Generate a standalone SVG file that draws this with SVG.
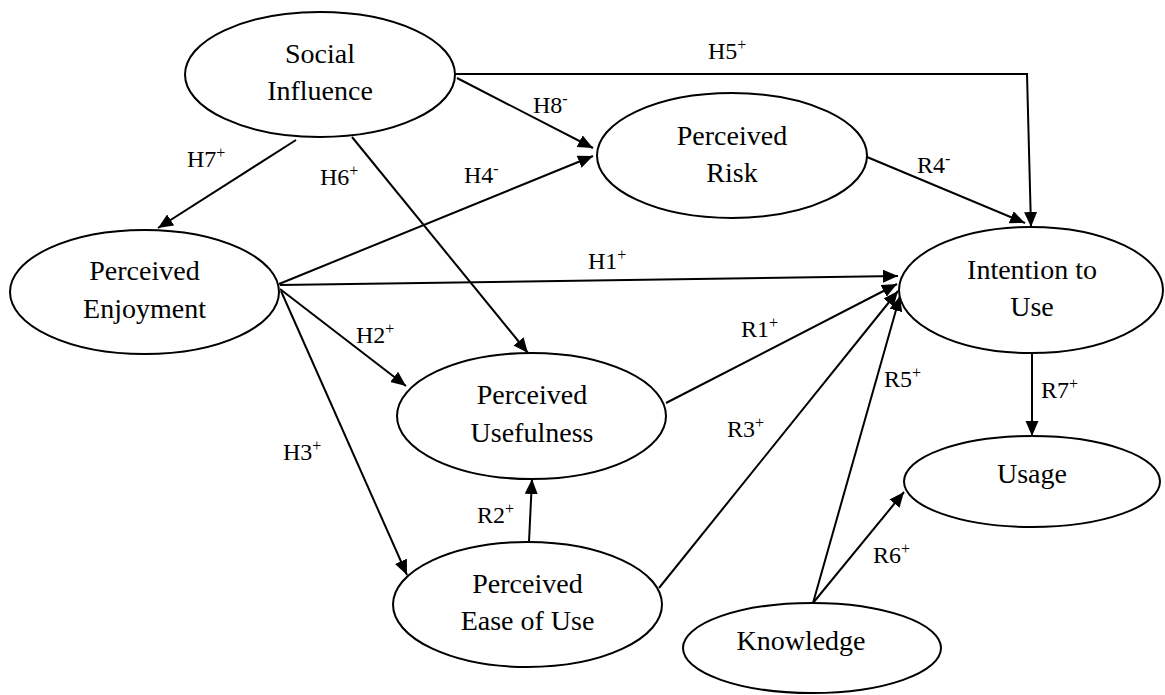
<svg xmlns="http://www.w3.org/2000/svg" width="1165" height="695" viewBox="0 0 1165 695">
<style>
.node ellipse{fill:#fff;stroke:#000;stroke-width:2}
.node text{font-size:28px;fill:#000;text-anchor:middle}
.conn line,.conn polyline{stroke:#000;stroke-width:2;fill:none;marker-end:url(#arr)}
.lbl{font-size:24px;fill:#000}
.sup{font-size:16px}
</style>
<defs>
<marker id="arr" markerUnits="userSpaceOnUse" markerWidth="16" markerHeight="14" refX="15" refY="6.5" orient="auto">
<path d="M0,0 L15,6.5 L0,13 Z" fill="#000"/>
</marker>
</defs>
<rect width="1165" height="695" fill="#fff"/>
<g class="conn" id="connectors">
<polyline points="455,74 1027,74 1031,227"/>
<line x1="457" y1="78" x2="593" y2="148"/>
<line x1="279" y1="284" x2="593" y2="156"/>
<line x1="296" y1="140" x2="158" y2="228"/>
<line x1="352" y1="137" x2="528" y2="353"/>
<line x1="280" y1="285" x2="898" y2="276"/>
<line x1="280" y1="289" x2="406" y2="386"/>
<line x1="281" y1="291" x2="407" y2="575"/>
<line x1="867" y1="157" x2="1025" y2="223"/>
<line x1="666" y1="403" x2="897" y2="284"/>
<line x1="659" y1="588" x2="898" y2="291"/>
<line x1="813" y1="603" x2="900" y2="296"/>
<line x1="813" y1="603" x2="904" y2="492"/>
<line x1="1032" y1="353" x2="1032" y2="436"/>
<line x1="529" y1="542" x2="532" y2="479"/>
</g>
<g font-family="'Liberation Serif', 'DejaVu Serif', serif">
<g class="node" id="social-influence">
<ellipse cx="320" cy="74.5" rx="135" ry="62.5"/>
<text x="320" y="63">Social</text>
<text x="320" y="100">Influence</text>
</g>
<g class="node" id="perceived-risk">
<ellipse cx="732" cy="155.5" rx="135" ry="62.5"/>
<text x="732" y="145">Perceived</text>
<text x="732" y="182">Risk</text>
</g>
<g class="node" id="perceived-enjoyment">
<ellipse cx="144.5" cy="292" rx="134.5" ry="62"/>
<text x="144.5" y="280">Perceived</text>
<text x="144.5" y="318">Enjoyment</text>
</g>
<g class="node" id="intention-to-use">
<ellipse cx="1031" cy="290" rx="132" ry="63"/>
<text x="1032" y="279">Intention to</text>
<text x="1032" y="316">Use</text>
</g>
<g class="node" id="perceived-usefulness">
<ellipse cx="531.5" cy="416" rx="134.5" ry="63"/>
<text x="532" y="404">Perceived</text>
<text x="532" y="442">Usefulness</text>
</g>
<g class="node" id="usage">
<ellipse cx="1032" cy="481.5" rx="128" ry="45.5"/>
<text x="1032" y="483">Usage</text>
</g>
<g class="node" id="perceived-ease-of-use">
<ellipse cx="527.5" cy="604.5" rx="134.5" ry="62.5"/>
<text x="527.5" y="593">Perceived</text>
<text x="527.5" y="630">Ease of Use</text>
</g>
<g class="node" id="knowledge">
<ellipse cx="812" cy="648" rx="129" ry="45"/>
<text x="801" y="650">Knowledge</text>
</g>
<g id="labels">
<text class="lbl" x="708" y="59">H5<tspan class="sup" dy="-9">+</tspan></text>
<text class="lbl" x="533" y="113">H8<tspan class="sup" dy="-9">-</tspan></text>
<text class="lbl" x="464" y="183">H4<tspan class="sup" dy="-9">-</tspan></text>
<text class="lbl" x="320" y="185">H6<tspan class="sup" dy="-9">+</tspan></text>
<text class="lbl" x="187" y="167">H7<tspan class="sup" dy="-9">+</tspan></text>
<text class="lbl" x="588" y="269">H1<tspan class="sup" dy="-9">+</tspan></text>
<text class="lbl" x="356" y="343">H2<tspan class="sup" dy="-9">+</tspan></text>
<text class="lbl" x="283" y="460">H3<tspan class="sup" dy="-9">+</tspan></text>
<text class="lbl" x="917" y="173">R4<tspan class="sup" dy="-9">-</tspan></text>
<text class="lbl" x="741" y="337">R1<tspan class="sup" dy="-9">+</tspan></text>
<text class="lbl" x="727" y="437">R3<tspan class="sup" dy="-9">+</tspan></text>
<text class="lbl" x="884" y="387">R5<tspan class="sup" dy="-9">+</tspan></text>
<text class="lbl" x="873" y="563">R6<tspan class="sup" dy="-9">+</tspan></text>
<text class="lbl" x="1041" y="398">R7<tspan class="sup" dy="-9">+</tspan></text>
<text class="lbl" x="477" y="523">R2<tspan class="sup" dy="-9">+</tspan></text>
</g>
</g>
</svg>
